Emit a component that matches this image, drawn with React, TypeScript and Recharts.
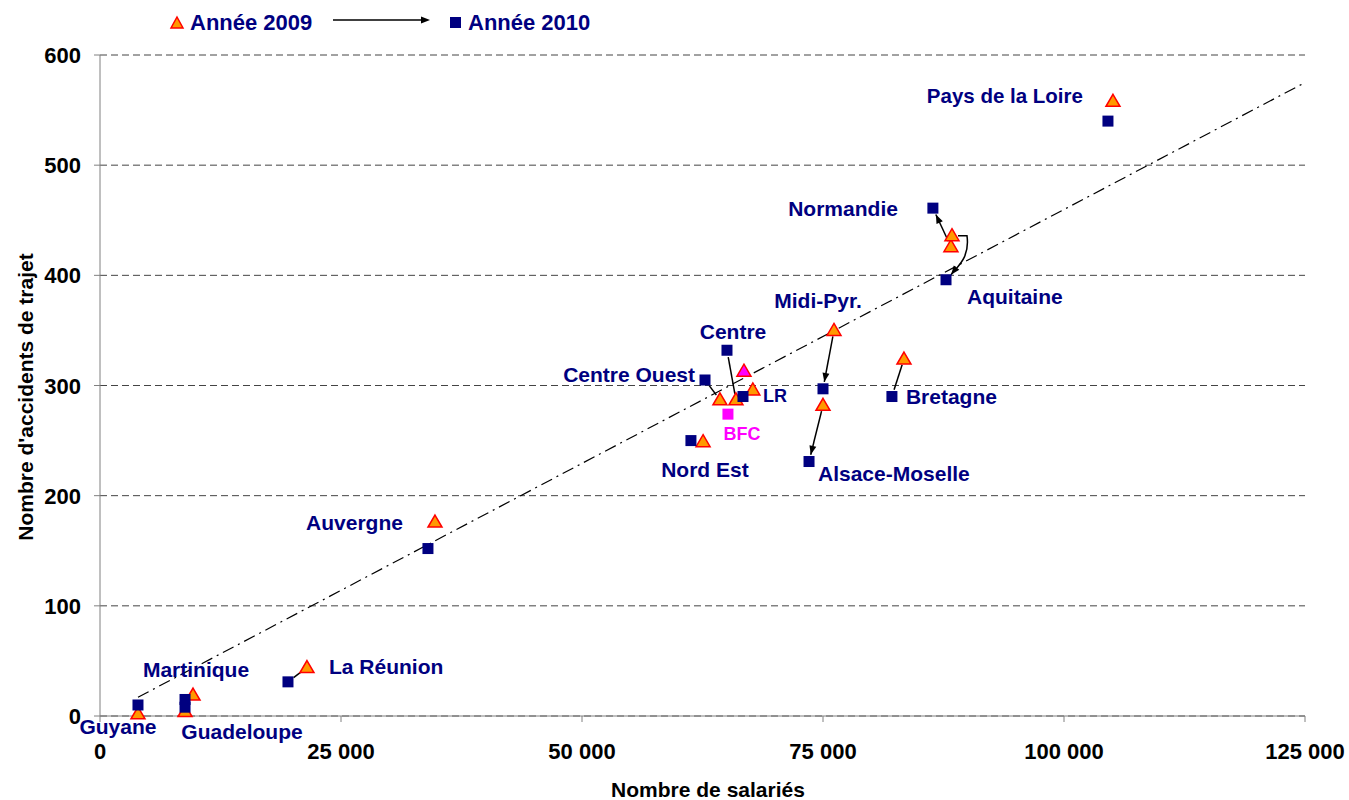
import { ScatterChart, Scatter, XAxis, YAxis, CartesianGrid, ReferenceLine } from 'recharts'

const FONT = '"Liberation Sans", Arial, sans-serif'
const NAVY = '#000080'

// régions, valeurs 2009 puis 2010
const regions = [
  'Pays de la Loire',
  'Normandie',
  'Aquitaine',
  'Midi-Pyr.',
  'Bretagne',
  'Alsace-Moselle',
  'Centre',
  'Centre Ouest',
  'LR',
  'BFC',
  'Nord Est',
  'Auvergne',
  'La Réunion',
  'Martinique',
  'Guadeloupe',
  'Guyane',
]
const salaries2009 = [105080, 88270, 88380, 76140, 83400, 75000, 65970, 64310, 67720, 66800, 62560, 34750, 21470, 9650, 8820, 3940]
const accidents2009 = [558, 426, 436, 350, 324, 282, 287, 287, 296, 313, 249, 176, 44, 19, 4, 2]
const salaries2010 = [104560, 86400, 87760, 75000, 82150, 73550, 65040, 62760, 66700, 65140, 61300, 34020, 19500, 8820, 8820, 3940]
const accidents2010 = [540, 461, 396, 297, 290, 231, 332, 305, 290, 274, 250, 152, 31, 15, 8, 10]

// droite de tendance
const trendSalaries = [3940, 125000]
const trendAccidents = [17, 575]

const xTicks = [0, 25000, 50000, 75000, 100000, 125000]
const yTicks = [0, 100, 200, 300, 400, 500, 600]

type Kind = 'arrow' | 'line' | 'curve'
const connectors: Record<string, Kind> = {
  Normandie: 'arrow',
  Aquitaine: 'curve',
  'Midi-Pyr.': 'arrow',
  Bretagne: 'line',
  'Alsace-Moselle': 'arrow',
  Centre: 'line',
  'Centre Ouest': 'line',
  'La Réunion': 'line',
}

type Place = { dx: number; dy: number; anchor: 'start' | 'middle' | 'end'; size?: number; color?: string }
const labelPlace: Record<string, Place> = {
  'Pays de la Loire': { dx: -25, dy: -26, anchor: 'end', size: 20.5 },
  Normandie: { dx: -35, dy: 0, anchor: 'end' },
  Aquitaine: { dx: 21, dy: 17, anchor: 'start' },
  'Midi-Pyr.': { dx: -5, dy: -88, anchor: 'middle' },
  Bretagne: { dx: 14, dy: 0, anchor: 'start' },
  'Alsace-Moselle': { dx: 9, dy: 12, anchor: 'start' },
  Centre: { dx: 6, dy: -19, anchor: 'middle' },
  'Centre Ouest': { dx: -10, dy: -5, anchor: 'end' },
  LR: { dx: 20, dy: -1, anchor: 'start', size: 18 },
  BFC: { dx: 14, dy: 20, anchor: 'middle', size: 18, color: '#FF00FF' },
  'Nord Est': { dx: 14, dy: 29, anchor: 'middle' },
  Auvergne: { dx: -25, dy: -26, anchor: 'end' },
  'La Réunion': { dx: 41, dy: -15, anchor: 'start' },
  Martinique: { dx: 11, dy: -30, anchor: 'middle' },
  Guadeloupe: { dx: 57, dy: 24, anchor: 'middle' },
  Guyane: { dx: -20, dy: 22, anchor: 'middle' },
}

const data2009 = regions.map((name, i) => ({ name, x: salaries2009[i], y: accidents2009[i] }))
const data2010 = regions.map((name, i) => ({ name, x: salaries2010[i], y: accidents2010[i] }))

const fmt = (v: number) => String(v).replace(/\B(?=(\d{3})+(?!\d))/g, ' ')

function arrowHead(tx: number, ty: number, ux: number, uy: number) {
  const bx = tx - ux * 9
  const by = ty - uy * 9
  const px = -uy * 3.5
  const py = ux * 3.5
  return `${tx},${ty} ${bx + px},${by + py} ${bx - px},${by - py}`
}

function connectorShape(kind: Kind) {
  return (p: any) => {
    const { x1, y1, x2, y2 } = p
    if (kind === 'curve') {
      const c2x = x2 + 12
      const c2y = y2 - 14
      const ex = x2 + 5
      const ey = y2 - 5
      const l = Math.hypot(ex - c2x, ey - c2y)
      return (
        <g>
          <path
            d={`M${x1 + 6},${y1} L${x1 + 15},${y1} C${x1 + 18},${y1 + 22} ${c2x},${c2y} ${ex},${ey}`}
            fill="none"
            stroke="#000"
            strokeWidth={1.5}
          />
          <polygon points={arrowHead(ex, ey, (ex - c2x) / l, (ey - c2y) / l)} fill="#000" />
        </g>
      )
    }
    const len = Math.hypot(x2 - x1, y2 - y1) || 1
    const ux = (x2 - x1) / len
    const uy = (y2 - y1) / len
    const sx = x1 + ux * 6
    const sy = y1 + uy * 6
    const ex = x2 - ux * 7
    const ey = y2 - uy * 7
    return (
      <g>
        <line x1={sx} y1={sy} x2={ex} y2={ey} stroke="#000" strokeWidth={1.5} />
        {kind === 'arrow' && <polygon points={arrowHead(ex, ey, ux, uy)} fill="#000" />}
      </g>
    )
  }
}

function Triangle(p: any) {
  const { cx, cy, payload } = p
  const fill = payload.name === 'BFC' ? '#FF00FF' : '#FF9900'
  return (
    <polygon
      points={`${cx},${cy - 7} ${cx + 7},${cy + 5} ${cx - 7},${cy + 5}`}
      fill={fill}
      stroke="#FF0000"
      strokeWidth={1.5}
    />
  )
}

function Square(p: any) {
  const { cx, cy, payload } = p
  const place = labelPlace[payload.name]
  const fill = payload.name === 'BFC' ? '#FF00FF' : NAVY
  return (
    <g>
      <rect x={cx - 5.5} y={cy - 5.5} width={11} height={11} fill={fill} />
      {place && (
        <text
          x={cx + place.dx}
          y={cy + place.dy}
          textAnchor={place.anchor}
          dominantBaseline="central"
          fontFamily={FONT}
          fontWeight="bold"
          fontSize={place.size ?? 21}
          fill={place.color ?? NAVY}
        >
          {payload.name}
        </text>
      )}
    </g>
  )
}

function XTick(p: any) {
  return (
    <text x={p.x} y={p.y} dy={35} textAnchor="middle" fontFamily={FONT} fontWeight="bold" fontSize={22} fill="#000">
      {fmt(p.payload.value)}
    </text>
  )
}

function YTick(p: any) {
  return (
    <text x={p.x} y={p.y} dx={-11} dy={8} textAnchor="end" fontFamily={FONT} fontWeight="bold" fontSize={22} fill="#000">
      {p.payload.value}
    </text>
  )
}

export default function App() {
  return (
    <div style={{ position: 'absolute', left: 0, top: 0, width: 1349, height: 800, background: '#fff' }}>
      <ScatterChart width={1349} height={800} margin={{ top: 55, right: 44, bottom: 0, left: 0 }}>
        <CartesianGrid vertical={false} stroke="#444" strokeDasharray="7 4" />
        <XAxis
          type="number"
          dataKey="x"
          domain={[0, 125000]}
          ticks={xTicks}
          height={84}
          stroke="#808080"
          tickSize={6}
          tick={<XTick />}
          interval={0}
        />
        <YAxis
          type="number"
          dataKey="y"
          domain={[0, 600]}
          ticks={yTicks}
          width={100}
          stroke="#808080"
          tickSize={6}
          tick={<YTick />}
          interval={0}
        />
        <ReferenceLine
          segment={[
            { x: trendSalaries[0], y: trendAccidents[0] },
            { x: trendSalaries[1], y: trendAccidents[1] },
          ]}
          stroke="#000"
          strokeWidth={1.2}
          strokeDasharray="12 5 2 5"
        />
        {regions
          .map((name, i) => ({ name, i }))
          .filter((r) => connectors[r.name])
          .map(({ name, i }) => (
            <ReferenceLine
              key={name}
              segment={[
                { x: salaries2009[i], y: accidents2009[i] },
                { x: salaries2010[i], y: accidents2010[i] },
              ]}
              shape={connectorShape(connectors[name])}
            />
          ))}
        <Scatter name="Année 2009" data={data2009} shape={<Triangle />} isAnimationActive={false} />
        <Scatter name="Année 2010" data={data2010} shape={<Square />} isAnimationActive={false} />
      </ScatterChart>

      <svg
        width={1349}
        height={800}
        style={{ position: 'absolute', left: 0, top: 0, pointerEvents: 'none' }}
        fontFamily={FONT}
        fontWeight="bold"
      >
        {/* légende */}
        <polygon points="177,17 183,28 171,28" fill="#FF9900" stroke="#FF0000" strokeWidth={1.5} />
        <text x={190} y={30} fontSize={22} fill={NAVY}>
          Année 2009
        </text>
        <line x1={333} y1={20} x2={422} y2={20} stroke="#000" strokeWidth={1.5} />
        <polygon points="430,20 421,16.5 421,23.5" fill="#000" />
        <rect x={450} y={17} width={11} height={11} fill={NAVY} />
        <text x={468} y={30} fontSize={22} fill={NAVY}>
          Année 2010
        </text>
        {/* titres des axes */}
        <text x={708} y={797} textAnchor="middle" fontSize={21} fill="#000">
          Nombre de salariés
        </text>
        <text
          x={0}
          y={0}
          transform="translate(33,397) rotate(-90)"
          textAnchor="middle"
          fontSize={21}
          fill="#000"
        >
          Nombre d'accidents de trajet
        </text>
      </svg>
    </div>
  )
}
